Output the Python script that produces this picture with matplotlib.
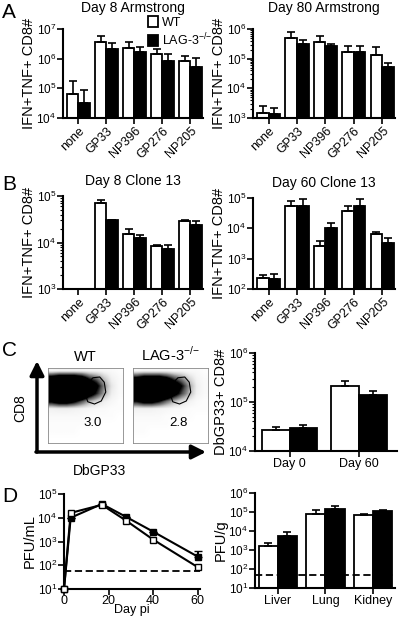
import numpy as np
import matplotlib
matplotlib.use("Agg")
import matplotlib.pyplot as plt
from matplotlib.patches import Patch, Polygon

plt.rcParams["font.family"] = ["Liberation Sans", "DejaVu Sans"]
plt.rcParams["mathtext.fontset"] = "custom"
plt.rcParams["mathtext.rm"] = "Liberation Sans"

# ---------------------------------------------------------------------------
# Данные
peptides = ["none", "GP33", "NP396", "GP276", "NP205"]

a8_wt = [6.4e4, 3.6e6, 2.3e6, 1.45e6, 8.1e5]
a8_wt_err = [1.06e5, 2.15e6, 1.33e6, 6.9e5, 4.5e5]
a8_ko = [3.3e4, 2.1e6, 1.65e6, 8.5e5, 5.2e5]
a8_ko_err = [5.4e4, 1.3e6, 7.5e5, 6.3e5, 5.3e5]

a80_wt = [1.5e3, 5.0e5, 3.7e5, 1.7e5, 1.3e5]
a80_wt_err = [9.5e2, 3.1e5, 2.05e5, 1.05e5, 1.2e5]
a80_ko = [1.4e3, 3.2e5, 2.6e5, 1.7e5, 5.2e4]
a80_ko_err = [7e2, 1.0e5, 5e4, 9e4, 2.2e4]

b8_wt = [np.nan, 6.9e4, 1.55e4, 8.3e3, 2.9e4]
b8_wt_err = [0, 1.4e4, 4e3, 4e2, 2e3]
b8_ko = [np.nan, 3.0e4, 1.26e4, 7.1e3, 2.4e4]
b8_ko_err = [0, 1e3, 2.2e3, 1.6e3, 5.5e3]

b60_wt = [2.3e2, 5.4e4, 2.6e3, 3.7e4, 6.3e3]
b60_wt_err = [70, 2.4e4, 1.3e3, 1.7e4, 1.5e3]
b60_ko = [2.2e2, 5.4e4, 1.0e4, 5.4e4, 3.2e3]
b60_ko_err = [1e2, 4.1e4, 5.5e3, 4.1e4, 1.5e3]

c_days = ["Day 0", "Day 60"]
c_wt = [2.7e4, 2.1e5]
c_wt_err = [4.6e3, 6e4]
c_ko = [3.0e4, 1.4e5]
c_ko_err = [4e3, 3e4]

# плотность точек на dot plot (строки: CD8 сверху вниз, столбцы: DbGP33 слева направо)
flow_wt = [
    [0.04, 0.05, 0.05, 0.05, 0.05, 0.04, 0.04, 0.03, 0.02, 0.01],
    [0.60, 0.70, 0.70, 0.70, 0.60, 0.40, 0.30, 0.15, 0.05, 0.02],
    [1.00, 1.00, 1.00, 1.00, 0.95, 0.70, 0.50, 0.25, 0.08, 0.02],
    [1.00, 1.00, 1.00, 1.00, 0.90, 0.60, 0.40, 0.20, 0.06, 0.02],
    [0.50, 0.60, 0.60, 0.50, 0.35, 0.20, 0.12, 0.06, 0.03, 0.01],
    [0.05, 0.06, 0.06, 0.05, 0.04, 0.03, 0.02, 0.02, 0.01, 0.01],
    [0.02, 0.02, 0.02, 0.02, 0.02, 0.01, 0.01, 0.01, 0.01, 0.00],
    [0.01, 0.01, 0.01, 0.01, 0.01, 0.01, 0.01, 0.00, 0.00, 0.00],
    [0.01, 0.01, 0.01, 0.01, 0.00, 0.00, 0.00, 0.00, 0.00, 0.00],
    [0.00, 0.00, 0.00, 0.00, 0.00, 0.00, 0.00, 0.00, 0.00, 0.00],
]
flow_ko = [
    [0.03, 0.04, 0.04, 0.04, 0.04, 0.03, 0.03, 0.02, 0.02, 0.01],
    [0.50, 0.60, 0.60, 0.60, 0.50, 0.35, 0.25, 0.12, 0.04, 0.02],
    [1.00, 1.00, 1.00, 1.00, 0.90, 0.65, 0.45, 0.22, 0.06, 0.02],
    [1.00, 1.00, 1.00, 0.95, 0.80, 0.55, 0.35, 0.18, 0.05, 0.02],
    [0.45, 0.55, 0.55, 0.45, 0.30, 0.18, 0.10, 0.05, 0.02, 0.01],
    [0.05, 0.05, 0.05, 0.04, 0.03, 0.02, 0.02, 0.01, 0.01, 0.01],
    [0.02, 0.02, 0.02, 0.02, 0.01, 0.01, 0.01, 0.01, 0.00, 0.00],
    [0.01, 0.01, 0.01, 0.01, 0.01, 0.00, 0.00, 0.00, 0.00, 0.00],
    [0.01, 0.01, 0.00, 0.00, 0.00, 0.00, 0.00, 0.00, 0.00, 0.00],
    [0.00, 0.00, 0.00, 0.00, 0.00, 0.00, 0.00, 0.00, 0.00, 0.00],
]
flow_pct = ["3.0", "2.8"]
gate_x = [0.50, 0.52, 0.60, 0.69, 0.75, 0.77, 0.71, 0.62, 0.53]
gate_y = [0.64, 0.79, 0.87, 0.88, 0.81, 0.68, 0.56, 0.52, 0.55]

d_days = [0, 3, 17, 28, 40, 60]
d_wt = [10, 1.6e4, 3.5e4, 7.4e3, 1.2e3, 83]
d_ko = [10, 1.0e4, 3.8e4, 1.07e4, 2.6e3, 2.3e2]
d_ko_err = [0, 0, 0, 0, 0, 1.5e2]
d_limit = 55

organs = ["Liver", "Lung", "Kidney"]
org_wt = [1.55e3, 7.8e4, 6.6e4]
org_wt_err = [8e2, 4.2e4, 1.5e4]
org_ko = [5.2e3, 1.45e5, 1.07e5]
org_ko_err = [3.3e3, 6.9e4, 2.5e4]
org_limit = 50
# ---------------------------------------------------------------------------

KO_LABEL = "LAG-3$^{{-}/{-}}$"
W, H = 400, 618
fig = plt.figure(figsize=(W / 100, H / 100), dpi=100)


def px_axes(x0, y0, x1, y1, **kw):
    """ Оси по пиксельным координатам (начало - левый верхний угол)"""
    return fig.add_axes([x0 / W, 1 - y1 / H, (x1 - x0) / W, (y1 - y0) / H], **kw)


def prism_style(ax):
    for side in ["top", "right"]:
        ax.spines[side].set_visible(False)
    for side in ["left", "bottom"]:
        ax.spines[side].set_linewidth(1.5)
    ax.tick_params(which="major", length=4, width=1.2, labelsize=8.5, pad=1)
    ax.tick_params(which="minor", length=2, width=0.8)
    ax.tick_params(axis="x", which="minor", length=0)


def set_ylab(ax, text, x_right):
    """ Подпись оси Y: x_right - правый край подписи в пикселях картинки"""
    ax.set_ylabel(text, fontsize=10.5)
    pos = ax.get_position()
    ax.yaxis.set_label_coords((x_right / W - pos.x0) / pos.width, 0.5)


def log_labels(ax, lo, hi):
    ax.set_yscale("log")
    ax.set_ylim(10 ** lo, 10 ** hi)
    ticks = [10 ** k for k in range(lo, hi + 1)]
    ax.set_yticks(ticks)
    ax.set_yticklabels([f"$10^{{{k}}}$" for k in range(lo, hi + 1)])


def bar_panel(ax, labels, wt, wt_err, ko, ko_err, lo, hi, width=0.41, rot=45):
    x = np.arange(len(labels))
    ekw = dict(lw=1.2, capsize=3, capthick=1.2, ecolor="black")
    ax.bar(x - width / 2, wt, width, color="white", edgecolor="black", lw=1.3,
           yerr=[np.zeros(len(wt)), wt_err], error_kw=ekw, zorder=2)
    ax.bar(x + width / 2, ko, width, color="black", edgecolor="black", lw=1.3,
           yerr=[np.zeros(len(ko)), ko_err], error_kw=ekw, zorder=2)
    log_labels(ax, lo, hi)
    prism_style(ax)
    ax.set_xticks(x)
    if rot:
        ax.set_xticklabels(labels, rotation=rot, ha="right", rotation_mode="anchor", fontsize=9)
    else:
        ax.set_xticklabels(labels, fontsize=9)
    ax.set_xlim(-0.55, len(labels) - 0.55)


# --- A ---
ax = px_axes(63, 29, 203, 118)
bar_panel(ax, peptides, a8_wt, a8_wt_err, a8_ko, a8_ko_err, 4, 7)
set_ylab(ax, "IFN+TNF+ CD8#", 36)
ax.set_title("Day 8 Armstrong", fontsize=10, pad=12)

ax = px_axes(253, 29, 395, 118)
bar_panel(ax, peptides, a80_wt, a80_wt_err, a80_ko, a80_ko_err, 3, 6)
set_ylab(ax, "IFN+TNF+ CD8#", 226)
ax.set_title("Day 80 Armstrong", fontsize=10, pad=12)

handles = [Patch(facecolor="white", edgecolor="black", lw=1.3),
           Patch(facecolor="black", edgecolor="black", lw=1.3)]
fig.legend(handles, ["WT", KO_LABEL], loc="upper left",
           bbox_to_anchor=(148 / W, 1 - 16 / H), frameon=False, fontsize=9,
           handlelength=0.8, handleheight=1.0, handletextpad=0.35, labelspacing=0.2,
           borderpad=0, borderaxespad=0)

# --- B ---
ax = px_axes(63, 196, 203, 289)
bar_panel(ax, peptides, b8_wt, b8_wt_err, b8_ko, b8_ko_err, 3, 5)
set_ylab(ax, "IFN+TNF+ CD8#", 36)
ax.set_title("Day 8 Clone 13", fontsize=10, pad=8)

ax = px_axes(253, 198, 395, 289)
bar_panel(ax, peptides, b60_wt, b60_wt_err, b60_ko, b60_ko_err, 2, 5)
set_ylab(ax, "IFN+TNF+ CD8#", 226)
ax.set_title("Day 60 Clone 13", fontsize=10, pad=8)

# --- C: dot plots ---
overlay = fig.add_axes([0, 0, 1, 1], zorder=-1)
overlay.set_xlim(0, W)
overlay.set_ylim(H, 0)
overlay.axis("off")
arrow = dict(arrowstyle="-|>,head_length=0.7,head_width=0.35", lw=2.5, color="black",
             shrinkA=0, shrinkB=0, mutation_scale=12)
overlay.annotate("", xy=(37, 361), xytext=(37, 452), arrowprops=arrow)
overlay.annotate("", xy=(206, 452), xytext=(36, 452), arrowprops=arrow)
overlay.text(20, 408, "CD8", rotation=90, ha="center", va="center", fontsize=10)
overlay.text(100, 471, "DbGP33", ha="center", va="center", fontsize=10)

for i, (dens, pct, title) in enumerate(zip([flow_wt, flow_ko], flow_pct, ["WT", KO_LABEL])):
    x0 = 48 + i * 85
    fx = px_axes(x0, 368, x0 + 75, 443)
    fx.imshow(np.array(dens), cmap="Greys", vmin=0, vmax=0.45, extent=[0, 1, 0, 1],
              interpolation="bilinear", aspect="auto")
    fx.add_patch(Polygon(np.column_stack([gate_x, gate_y]), closed=True, fill=False,
                         lw=0.8, edgecolor="black"))
    fx.text(0.6, 0.27, pct, ha="center", va="center", fontsize=9.5)
    fx.set_xlim(0, 1)
    fx.set_ylim(0, 1)
    fx.set_xticks([])
    fx.set_yticks([])
    for s in fx.spines.values():
        s.set_linewidth(0.6)
        s.set_color("#888888")
    fx.set_title(title, fontsize=10.5, pad=5)

# --- C: bars ---
ax = px_axes(255, 353, 397, 451)
bar_panel(ax, c_days, c_wt, c_wt_err, c_ko, c_ko_err, 4, 6, width=0.4, rot=0)
ax.set_xlim(-0.5, 1.55)
set_ylab(ax, "DbGP33+ CD8#", 228)

# --- D: titers ---
ax = px_axes(64, 494, 200, 589)
ax.plot(d_days, d_wt, "-s", color="black", mfc="white", mec="black", ms=5, lw=1.5,
        zorder=3, clip_on=False)
ax.errorbar(d_days, d_ko, yerr=[np.zeros(len(d_ko)), d_ko_err], fmt="-s", color="black",
            ms=5, lw=1.5, capsize=3, zorder=2, clip_on=False)
ax.axhline(d_limit, color="black", lw=1.3, ls=(0, (4, 2)))
log_labels(ax, 1, 5)
prism_style(ax)
ax.tick_params(axis="x", pad=0)
ax.set_xlim(0, 61)
ax.set_xticks([0, 20, 40, 60])
ax.set_xticklabels(["0", "20", "40", "60"], fontsize=9)
set_ylab(ax, "PFU/mL", 37)
ax.set_xlabel("Day pi", fontsize=9, labelpad=-2)

ax = px_axes(255, 493, 395, 588)
bar_panel(ax, organs, org_wt, org_wt_err, org_ko, org_ko_err, 1, 6, width=0.4, rot=0)
ax.set_xlim(-0.48, 2.46)
ax.axhline(org_limit, color="black", lw=1.3, ls=(0, (4, 2)), zorder=4)
set_ylab(ax, "PFU/g", 228)

# --- буквы панелей ---
for letter, y in zip("ABCD", [12, 185, 350, 497]):
    fig.text(2 / W, 1 - y / H, letter, fontsize=15, ha="left", va="center")

fig.savefig("out.png", dpi=100)
